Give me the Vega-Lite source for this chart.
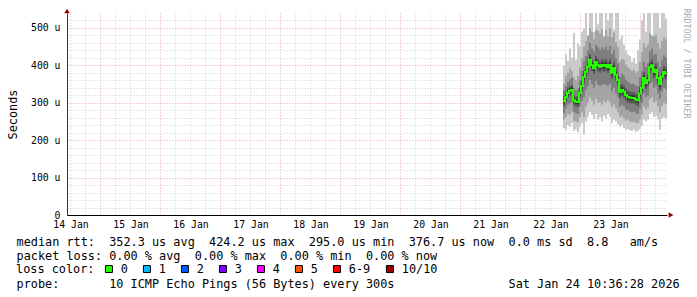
{
"$schema":"https://vega.github.io/schema/vega-lite/v6.json",
"width":600,"height":202,
"autosize":"none",
"padding":{"left":67,"top":13,"right":30,"bottom":82},
"background":"#ffffff",
"config":{"view":{"stroke":null},"font":"DejaVu Sans Mono","axis":{"labelFont":"DejaVu Sans Mono","titleFont":"DejaVu Sans Mono"}},
"title":{"text":"RRDTOOL / TOBI OETIKER","orient":"right","anchor":"start","font":"DejaVu Sans Mono","fontSize":8.3,"fontWeight":"normal","color":"#aaaaaa","offset":4},
"datasets":{"smoke":[
{"t":"2026-01-22T17:00","p1":232,"p2":255,"p3":272,"p4":292,"p5":300,"p6":310,"p7":318,"p8":335,"p9":352,"p10":398,"med":305,"loss":"0"},
{"t":"2026-01-22T17:48","p1":228,"p2":262,"p3":285,"p4":302,"p5":310,"p6":321,"p7":328,"p8":345,"p9":372,"p10":430,"med":315,"loss":"0"},
{"t":"2026-01-22T18:36","p1":240,"p2":270,"p3":295,"p4":313,"p5":320,"p6":332,"p7":340,"p8":356,"p9":380,"p10":412,"med":326,"loss":"0"},
{"t":"2026-01-22T19:24","p1":236,"p2":268,"p3":298,"p4":318,"p5":326,"p6":339,"p7":345,"p8":362,"p9":392,"p10":445,"med":332,"loss":"0"},
{"t":"2026-01-22T20:12","p1":245,"p2":275,"p3":302,"p4":322,"p5":328,"p6":341,"p7":348,"p8":366,"p9":385,"p10":420,"med":334,"loss":"0"},
{"t":"2026-01-22T21:00","p1":225,"p2":252,"p3":276,"p4":294,"p5":301,"p6":313,"p7":320,"p8":340,"p9":368,"p10":487,"med":307,"loss":"0"},
{"t":"2026-01-22T21:48","p1":230,"p2":250,"p3":272,"p4":290,"p5":297,"p6":309,"p7":316,"p8":332,"p9":360,"p10":415,"med":303,"loss":"0"},
{"t":"2026-01-22T22:36","p1":222,"p2":248,"p3":270,"p4":289,"p5":296,"p6":308,"p7":318,"p8":338,"p9":372,"p10":460,"med":302,"loss":"0"},
{"t":"2026-01-22T23:24","p1":236,"p2":262,"p3":290,"p4":312,"p5":320,"p6":332,"p7":340,"p8":360,"p9":395,"p10":452,"med":326,"loss":"0"},
{"t":"2026-01-23T00:12","p1":245,"p2":275,"p3":305,"p4":330,"p5":338,"p6":352,"p7":360,"p8":385,"p9":420,"p10":490,"med":345,"loss":"0"},
{"t":"2026-01-23T01:00","p1":215,"p2":262,"p3":315,"p4":350,"p5":362,"p6":376,"p7":385,"p8":410,"p9":450,"p10":500,"med":369,"loss":"0"},
{"t":"2026-01-23T01:48","p1":250,"p2":290,"p3":335,"p4":365,"p5":375,"p6":389,"p7":398,"p8":425,"p9":465,"p10":540,"med":382,"loss":"0"},
{"t":"2026-01-23T02:36","p1":262,"p2":300,"p3":345,"p4":378,"p5":389,"p6":403,"p7":412,"p8":440,"p9":480,"p10":470,"med":396,"loss":"0"},
{"t":"2026-01-23T03:24","p1":275,"p2":315,"p3":360,"p4":398,"p5":408,"p6":422,"p7":430,"p8":460,"p9":500,"p10":540,"med":415,"loss":"0"},
{"t":"2026-01-23T04:12","p1":268,"p2":305,"p3":350,"p4":385,"p5":393,"p6":407,"p7":415,"p8":445,"p9":490,"p10":540,"med":400,"loss":"0"},
{"t":"2026-01-23T05:00","p1":258,"p2":295,"p3":340,"p4":376,"p5":385,"p6":399,"p7":408,"p8":438,"p9":470,"p10":490,"med":392,"loss":"0"},
{"t":"2026-01-23T05:48","p1":270,"p2":310,"p3":358,"p4":393,"p5":402,"p6":416,"p7":425,"p8":455,"p9":495,"p10":540,"med":409,"loss":"0"},
{"t":"2026-01-23T06:36","p1":255,"p2":300,"p3":348,"p4":384,"p5":393,"p6":407,"p7":418,"p8":450,"p9":492,"p10":510,"med":400,"loss":"0"},
{"t":"2026-01-23T07:24","p1":262,"p2":302,"p3":345,"p4":380,"p5":389,"p6":403,"p7":412,"p8":442,"p9":485,"p10":540,"med":396,"loss":"0"},
{"t":"2026-01-23T08:12","p1":250,"p2":295,"p3":348,"p4":386,"p5":394,"p6":408,"p7":418,"p8":448,"p9":498,"p10":540,"med":401,"loss":"0"},
{"t":"2026-01-23T09:00","p1":265,"p2":305,"p3":350,"p4":382,"p5":391,"p6":405,"p7":414,"p8":444,"p9":475,"p10":480,"med":398,"loss":"0"},
{"t":"2026-01-23T09:48","p1":258,"p2":300,"p3":348,"p4":385,"p5":394,"p6":408,"p7":418,"p8":450,"p9":495,"p10":540,"med":401,"loss":"0"},
{"t":"2026-01-23T10:36","p1":270,"p2":308,"p3":345,"p4":380,"p5":388,"p6":402,"p7":410,"p8":440,"p9":478,"p10":520,"med":395,"loss":"0"},
{"t":"2026-01-23T11:24","p1":262,"p2":300,"p3":350,"p4":386,"p5":394,"p6":408,"p7":418,"p8":452,"p9":500,"p10":540,"med":401,"loss":"0"},
{"t":"2026-01-23T12:12","p1":245,"p2":288,"p3":330,"p4":364,"p5":373,"p6":387,"p7":398,"p8":430,"p9":475,"p10":540,"med":380,"loss":"0"},
{"t":"2026-01-23T13:00","p1":255,"p2":296,"p3":340,"p4":377,"p5":386,"p6":400,"p7":410,"p8":442,"p9":488,"p10":495,"med":393,"loss":"0"},
{"t":"2026-01-23T13:48","p1":250,"p2":285,"p3":325,"p4":358,"p5":368,"p6":382,"p7":392,"p8":420,"p9":462,"p10":540,"med":375,"loss":"0"},
{"t":"2026-01-23T14:36","p1":242,"p2":275,"p3":315,"p4":345,"p5":354,"p6":368,"p7":378,"p8":405,"p9":450,"p10":540,"med":361,"loss":"0"},
{"t":"2026-01-23T15:24","p1":235,"p2":262,"p3":290,"p4":313,"p5":322,"p6":336,"p7":346,"p8":370,"p9":410,"p10":470,"med":329,"loss":"0"},
{"t":"2026-01-23T16:12","p1":240,"p2":265,"p3":295,"p4":318,"p5":327,"p6":341,"p7":350,"p8":378,"p9":418,"p10":480,"med":334,"loss":"0"},
{"t":"2026-01-23T17:00","p1":232,"p2":258,"p3":290,"p4":314,"p5":323,"p6":337,"p7":346,"p8":372,"p9":415,"p10":455,"med":330,"loss":"0"},
{"t":"2026-01-23T17:48","p1":228,"p2":252,"p3":282,"p4":305,"p5":314,"p6":328,"p7":338,"p8":362,"p9":402,"p10":440,"med":321,"loss":"0"},
{"t":"2026-01-23T18:36","p1":230,"p2":255,"p3":280,"p4":301,"p5":309,"p6":323,"p7":332,"p8":356,"p9":395,"p10":430,"med":316,"loss":"0"},
{"t":"2026-01-23T19:24","p1":226,"p2":250,"p3":276,"p4":299,"p5":307,"p6":321,"p7":330,"p8":352,"p9":390,"p10":425,"med":314,"loss":"0"},
{"t":"2026-01-23T20:12","p1":225,"p2":248,"p3":275,"p4":298,"p5":306,"p6":320,"p7":328,"p8":350,"p9":385,"p10":410,"med":313,"loss":"0"},
{"t":"2026-01-23T21:00","p1":228,"p2":250,"p3":277,"p4":298,"p5":306,"p6":320,"p7":328,"p8":350,"p9":388,"p10":420,"med":313,"loss":"0"},
{"t":"2026-01-23T21:48","p1":222,"p2":246,"p3":272,"p4":294,"p5":302,"p6":316,"p7":324,"p8":345,"p9":380,"p10":405,"med":309,"loss":"0"},
{"t":"2026-01-23T22:36","p1":225,"p2":245,"p3":270,"p4":292,"p5":300,"p6":314,"p7":322,"p8":345,"p9":385,"p10":440,"med":307,"loss":"0"},
{"t":"2026-01-23T23:24","p1":230,"p2":255,"p3":285,"p4":308,"p5":318,"p6":332,"p7":342,"p8":368,"p9":410,"p10":470,"med":325,"loss":"0"},
{"t":"2026-01-24T00:12","p1":238,"p2":268,"p3":300,"p4":324,"p5":333,"p6":347,"p7":358,"p8":385,"p9":435,"p10":520,"med":340,"loss":"0"},
{"t":"2026-01-24T01:00","p1":255,"p2":290,"p3":325,"p4":350,"p5":359,"p6":373,"p7":382,"p8":410,"p9":460,"p10":540,"med":366,"loss":"0"},
{"t":"2026-01-24T01:48","p1":250,"p2":282,"p3":315,"p4":337,"p5":345,"p6":359,"p7":368,"p8":395,"p9":448,"p10":490,"med":352,"loss":"0"},
{"t":"2026-01-24T02:36","p1":255,"p2":288,"p3":320,"p4":344,"p5":353,"p6":367,"p7":376,"p8":405,"p9":455,"p10":540,"med":360,"loss":"0"},
{"t":"2026-01-24T03:24","p1":270,"p2":310,"p3":350,"p4":378,"p5":388,"p6":402,"p7":410,"p8":438,"p9":485,"p10":540,"med":395,"loss":"0"},
{"t":"2026-01-24T04:12","p1":275,"p2":315,"p3":355,"p4":384,"p5":393,"p6":407,"p7":415,"p8":445,"p9":480,"p10":470,"med":400,"loss":"0"},
{"t":"2026-01-24T05:00","p1":262,"p2":300,"p3":340,"p4":366,"p5":375,"p6":389,"p7":398,"p8":428,"p9":478,"p10":540,"med":382,"loss":"0"},
{"t":"2026-01-24T05:48","p1":265,"p2":305,"p3":345,"p4":372,"p5":381,"p6":395,"p7":404,"p8":432,"p9":482,"p10":540,"med":388,"loss":"0"},
{"t":"2026-01-24T06:36","p1":255,"p2":290,"p3":325,"p4":350,"p5":359,"p6":373,"p7":382,"p8":410,"p9":460,"p10":540,"med":366,"loss":"0"},
{"t":"2026-01-24T07:24","p1":228,"p2":275,"p3":310,"p4":334,"p5":343,"p6":357,"p7":366,"p8":395,"p9":445,"p10":500,"med":350,"loss":"0"},
{"t":"2026-01-24T08:12","p1":258,"p2":292,"p3":330,"p4":354,"p5":363,"p6":377,"p7":386,"p8":415,"p9":465,"p10":540,"med":370,"loss":"0"},
{"t":"2026-01-24T09:00","p1":262,"p2":300,"p3":340,"p4":366,"p5":375,"p6":389,"p7":398,"p8":428,"p9":475,"p10":540,"med":382,"loss":"0"},
{"t":"2026-01-24T09:48","p1":258,"p2":296,"p3":336,"p4":362,"p5":371,"p6":385,"p7":394,"p8":422,"p9":470,"p10":525,"med":378,"loss":"0"},
{"t":"2026-01-24T10:36","p1":258,"p2":296,"p3":336,"p4":362,"p5":370,"p6":384,"p7":394,"p8":422,"p9":470,"p10":525,"med":377,"loss":"0"}
]},
"data":{"name":"smoke"},
"resolve":{"axis":{"x":"independent","y":"independent"}},
"layer":[
{"mark":{"type":"area","interpolate":"step-after","color":"#cacaca"},
 "encoding":{
  "x":{"field":"t","type":"temporal",
   "scale":{"domain":[{"year":2026,"month":1,"date":14,"hours":10,"minutes":36,"seconds":28},{"year":2026,"month":1,"date":24,"hours":10,"minutes":36,"seconds":28}],"nice":false},
   "axis":{"orient":"bottom","grid":true,"gridColor":"#cfcfcf","gridDash":[1,2],"gridWidth":1,"labels":false,"ticks":false,"domain":false,"title":null,
    "values":[{"year":2026,"month":1,"date":14,"hours":12},{"year":2026,"month":1,"date":14,"hours":18},
     {"year":2026,"month":1,"date":15,"hours":6},{"year":2026,"month":1,"date":15,"hours":12},{"year":2026,"month":1,"date":15,"hours":18},
     {"year":2026,"month":1,"date":16,"hours":6},{"year":2026,"month":1,"date":16,"hours":12},{"year":2026,"month":1,"date":16,"hours":18},
     {"year":2026,"month":1,"date":17,"hours":6},{"year":2026,"month":1,"date":17,"hours":12},{"year":2026,"month":1,"date":17,"hours":18},
     {"year":2026,"month":1,"date":18,"hours":6},{"year":2026,"month":1,"date":18,"hours":12},{"year":2026,"month":1,"date":18,"hours":18},
     {"year":2026,"month":1,"date":19,"hours":6},{"year":2026,"month":1,"date":19,"hours":12},{"year":2026,"month":1,"date":19,"hours":18},
     {"year":2026,"month":1,"date":20,"hours":6},{"year":2026,"month":1,"date":20,"hours":12},{"year":2026,"month":1,"date":20,"hours":18},
     {"year":2026,"month":1,"date":21,"hours":6},{"year":2026,"month":1,"date":21,"hours":12},{"year":2026,"month":1,"date":21,"hours":18},
     {"year":2026,"month":1,"date":22,"hours":6},{"year":2026,"month":1,"date":22,"hours":12},{"year":2026,"month":1,"date":22,"hours":18},
     {"year":2026,"month":1,"date":23,"hours":6},{"year":2026,"month":1,"date":23,"hours":12},{"year":2026,"month":1,"date":23,"hours":18},
     {"year":2026,"month":1,"date":24,"hours":6}]}},
  "y":{"field":"p1","type":"quantitative","scale":{"domain":[0,540],"nice":false,"zero":true},
   "axis":{"orient":"left","grid":true,"gridColor":"#cfcfcf","gridDash":[1,2],"gridWidth":1,"values":[20,40,60,80,120,140,160,180,220,240,260,280,320,340,360,380,420,440,460,480,520],"labels":false,"ticks":false,"domain":false,"title":null}},
  "y2":{"field":"p10"}}},
{"mark":{"type":"area","interpolate":"step-after","color":"#a4a4a4"},
 "encoding":{
  "x":{"field":"t","type":"temporal",
   "axis":{"orient":"bottom","grid":true,"gridColor":"#e8a4a4","gridDash":[1,2],"gridWidth":1,"labels":false,"ticks":false,"domain":false,"title":null,
    "values":[{"year":2026,"month":1,"date":15},{"year":2026,"month":1,"date":16},{"year":2026,"month":1,"date":17},{"year":2026,"month":1,"date":18},{"year":2026,"month":1,"date":19},{"year":2026,"month":1,"date":20},{"year":2026,"month":1,"date":21},{"year":2026,"month":1,"date":22},{"year":2026,"month":1,"date":23},{"year":2026,"month":1,"date":24}]}},
  "y":{"field":"p2","type":"quantitative",
   "axis":{"orient":"left","grid":true,"gridColor":"#e8a4a4","gridDash":[1,2],"gridWidth":1,"values":[100,200,300,400,500],"labels":false,"ticks":false,"domain":false,"title":null}},
  "y2":{"field":"p9"}}},
{"mark":{"type":"area","interpolate":"step-after","color":"#7e7e7e"},
 "encoding":{
  "x":{"field":"t","type":"temporal",
   "axis":{"orient":"bottom","values":[{"year":2026,"month":1,"date":14,"hours":12},{"year":2026,"month":1,"date":15,"hours":12},{"year":2026,"month":1,"date":16,"hours":12},{"year":2026,"month":1,"date":17,"hours":12},{"year":2026,"month":1,"date":18,"hours":12},{"year":2026,"month":1,"date":19,"hours":12},{"year":2026,"month":1,"date":20,"hours":12},{"year":2026,"month":1,"date":21,"hours":12},{"year":2026,"month":1,"date":22,"hours":12},{"year":2026,"month":1,"date":23,"hours":12}],
    "format":"%d %b","labelFontSize":9.8,"labelColor":"#000000","labelPadding":4,"labelAngle":0,"labelFlush":false,"labelOverlap":false,"ticks":false,"tickSize":0,"grid":false,"domain":true,"domainColor":"#000000","domainWidth":1,
    "title":["median rtt:\u00a0\u00a0352.3 us avg\u00a0\u00a0424.2 us max\u00a0\u00a0295.0 us min\u00a0\u00a0376.7 us now\u00a0\u00a00.0 ms sd\u00a0\u00a08.8\u00a0\u00a0\u00a0am/s","packet loss: 0.00 % avg\u00a0\u00a00.00 % max\u00a0\u00a00.00 % min\u00a0\u00a00.00 % now","\u200b","probe:\u00a0\u00a0\u00a0\u00a0\u00a0\u00a0\u00a010 ICMP Echo Pings (56 Bytes) every 300s\u00a0\u00a0\u00a0\u00a0\u00a0\u00a0\u00a0\u00a0\u00a0\u00a0\u00a0\u00a0\u00a0\u00a0\u00a0\u00a0Sat Jan 24 10:36:28 2026"],
    "titleFontSize":11.85,"titleFontWeight":"normal","titleColor":"#000000","titleAlign":"left","titleBaseline":"alphabetic","titleX":-51,"titleY":30,"titleLineHeight":14.2}},
  "y":{"field":"p3","type":"quantitative",
   "axis":{"orient":"left","values":[0,100,200,300,400,500],"labelExpr":"datum.value == 0 ? '0\u00a0\u00a0' : datum.value + ' u'","labelFontSize":9.8,"labelColor":"#000000","labelPadding":7,"ticks":false,"tickSize":0,"grid":false,"domain":true,"domainColor":"#333333","domainWidth":1,
    "title":"Seconds","titleFontSize":11.85,"titleFontWeight":"normal","titleColor":"#000000","titlePadding":12}},
  "y2":{"field":"p8"}}},
{"mark":{"type":"area","interpolate":"step-after","color":"#585858"},
 "encoding":{"x":{"field":"t","type":"temporal","axis":null},"y":{"field":"p4","type":"quantitative","axis":null},"y2":{"field":"p7"}}},
{"mark":{"type":"area","interpolate":"step-after","color":"#323232"},
 "encoding":{"x":{"field":"t","type":"temporal","axis":null},"y":{"field":"p5","type":"quantitative","axis":null},"y2":{"field":"p6"}}},
{"mark":{"type":"line","interpolate":"step-after","color":"#26ff00","strokeWidth":2},
 "encoding":{"x":{"field":"t","type":"temporal","axis":null},"y":{"field":"med","type":"quantitative","axis":null}}},
{"mark":{"type":"point","shape":"square","filled":true,"size":0},
 "encoding":{"x":{"field":"t","type":"temporal","axis":null},"y":{"field":"med","type":"quantitative","axis":null},
  "fill":{"field":"loss","type":"nominal",
   "scale":{"domain":["0","1","2","3","4","5","6-9","10/10"],"range":["#26ff00","#00b8ff","#0059ff","#7e00ff","#ff00ff","#ff5500","#ff0000","#a10000"]},
   "legend":{"orient":"none","legendX":-51,"legendY":250,"direction":"horizontal","title":"loss color:","titleOrient":"left","titleFont":"DejaVu Sans Mono","titleFontSize":11.85,"titleFontWeight":"normal","titleColor":"#000000","titlePadding":8,"labelFont":"DejaVu Sans Mono","labelFontSize":11.85,"labelColor":"#000000","symbolType":"square","symbolSize":49,"symbolStrokeColor":"#000000","symbolStrokeWidth":1,"symbolOpacity":1,"labelOffset":6,"columnPadding":13}}}},
{"data":{"values":[{"k":1}]},
 "mark":{"type":"point","shape":"triangle-right","filled":true,"size":30,"color":"#900000","opacity":1,"xOffset":4,"clip":false},
 "encoding":{"x":{"datum":{"year":2026,"month":1,"date":24,"hours":10,"minutes":36,"seconds":28},"type":"temporal","axis":null},"y":{"datum":0,"type":"quantitative","axis":null}}},
{"data":{"values":[{"k":1}]},
 "mark":{"type":"point","shape":"triangle-up","filled":true,"size":30,"color":"#900000","opacity":1,"yOffset":-2,"clip":false},
 "encoding":{"x":{"datum":{"year":2026,"month":1,"date":14,"hours":10,"minutes":36,"seconds":28},"type":"temporal","axis":null},"y":{"datum":540,"type":"quantitative","axis":null}}}
]
}
